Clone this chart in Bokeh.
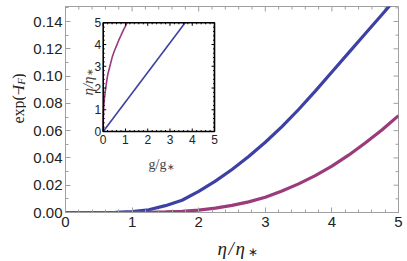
import numpy as np
from math import pi
from bokeh.plotting import figure
from bokeh.layouts import row, column
from bokeh.models import Range1d, SingleIntervalTicker, NumeralTickFormatter
from bokeh.core.properties import value
from bokeh.embed import file_html
from bokeh.resources import INLINE

# ---------------- data ----------------
eta = [0.0, 0.25, 0.5, 0.75, 1.0, 1.25, 1.5, 1.75, 2.0, 2.25, 2.5,
       2.75, 3.0, 3.25, 3.5, 3.75, 4.0, 4.25, 4.5, 4.75, 5.0]
exp_blue = [0.0, 0.0, 0.0, 0.0001, 0.0006, 0.002, 0.005, 0.009, 0.0155, 0.023, 0.0315,
            0.041, 0.0515, 0.063, 0.0755, 0.089, 0.103, 0.117, 0.131, 0.145, 0.159]
exp_magenta = [0.0, 0.0, 0.0, 0.0, 0.0, 0.0001, 0.0004, 0.0009, 0.0018, 0.0032, 0.0052,
               0.0078, 0.0112, 0.0157, 0.021, 0.027, 0.034, 0.042, 0.051, 0.0605, 0.071]

x_ticks = [0, 1, 2, 3, 4, 5]
y_ticks = [0.00, 0.02, 0.04, 0.06, 0.08, 0.10, 0.12, 0.14]

inset_g_blue = [0.0, 3.68]
inset_eta_blue = [0.0, 5.0]
inset_g_magenta = [0.0, 0.005, 0.02, 0.05, 0.1, 0.2, 0.3, 0.4, 0.5, 0.6, 0.7, 0.8, 0.9, 1.0, 1.07]
inset_eta_magenta = [0.0, 0.6, 1.05, 1.45, 1.9, 2.6, 3.0, 3.4, 3.7, 3.95, 4.2, 4.42, 4.65, 4.85, 5.0]
inset_ticks = [0, 1, 2, 3, 4, 5]
inset_tick_labels = ["0", "1", "2", "3", "4", "5"]

BLUE = "#3d41a3"
MAGENTA = "#9b3b7b"
FRAME_GRAY = "#a0a0a0"
TXT = "#222222"
GRAY_LAB = "#444444"
SANS = "Liberation Sans"
SERIF = "Liberation Serif"

# ---------------- geometry (page pixels) ----------------
TOTAL_W, TOTAL_H = 405, 260
YLAB_W = 26                  # strip left of the main plot holding the y label
MAIN_H = 234                 # height of main plot canvas
XLAB_H = TOTAL_H - MAIN_H    # strip below holding the x label
FL, FR, FT, FB = 65, 398, 6, 212          # main frame (page px)
X0, X1 = 0.0, 5.0
Y_PER_PX = 0.14 / 191.0
Y0 = 0.0
Y1 = (FB - FT) * Y_PER_PX
X_PER_PX = (X1 - X0) / (FR - FL)

IL, IR, IT, IB = 102.7, 214.0, 22.3, 131.0  # inset frame (page px)
I_LO, I_HI = 0.0, 5.0
ix_pp = (I_HI - I_LO) / (IR - IL)
iy_pp = (I_HI - I_LO) / (IB - IT)


def mx(px):
    return X0 + (px - FL) * X_PER_PX


def my(py):
    return Y0 + (FB - py) * Y_PER_PX


MAIN_W = TOTAL_W - YLAB_W
p = figure(width=MAIN_W, height=MAIN_H, x_range=Range1d(X0, X1), y_range=Range1d(Y0, Y1),
           output_backend="svg", toolbar_location=None,
           min_border_left=FL - YLAB_W, min_border_right=TOTAL_W - FR,
           min_border_top=FT, min_border_bottom=MAIN_H - FB)
p.grid.visible = False
p.outline_line_color = FRAME_GRAY
p.background_fill_color = "white"
p.border_fill_color = "white"

p.xaxis.ticker = SingleIntervalTicker(interval=1, num_minor_ticks=5)
p.yaxis.ticker = SingleIntervalTicker(interval=0.02, num_minor_ticks=2)
p.yaxis.formatter = NumeralTickFormatter(format="0.00")
for ax in (p.xaxis[0], p.yaxis[0]):
    ax.axis_line_color = FRAME_GRAY
    ax.major_tick_line_color = FRAME_GRAY
    ax.minor_tick_line_color = FRAME_GRAY
    ax.major_tick_in = 5
    ax.major_tick_out = 0
    ax.minor_tick_in = 3
    ax.minor_tick_out = 0
    ax.major_label_text_font = SANS
    ax.major_label_text_font_size = "15px"
    ax.major_label_text_color = TXT
p.xaxis.major_label_standoff = 4
p.yaxis.major_label_standoff = 3

# mirrored ticks on top and right edges
xt = np.arange(X0, X1 + 1e-9, 0.2)
xmaj = np.isclose(xt % 1.0, 0) | np.isclose(xt % 1.0, 1.0)
xlen = np.where(xmaj, 5, 3) * Y_PER_PX
p.segment(x0=xt, y0=[Y1] * len(xt), x1=xt, y1=Y1 - xlen, line_color=FRAME_GRAY, line_width=1)
yt = np.arange(0, 0.15 + 1e-9, 0.01)
ymaj = np.isclose(np.round(yt / 0.01) % 2, 0)
ylen = np.where(ymaj, 5, 3) * X_PER_PX
p.segment(x0=[X1] * len(yt), y0=yt, x1=X1 - ylen, y1=yt, line_color=FRAME_GRAY, line_width=1)

# main curves
p.line(eta, exp_blue, line_color=BLUE, line_width=3.2)
p.line(eta, exp_magenta, line_color=MAGENTA, line_width=3.2)

# ---------------- inset ----------------
p.extra_x_ranges = {"ix": Range1d(I_LO - (IL - FL) * ix_pp, I_HI + (FR - IR) * ix_pp)}
p.extra_y_ranges = {"iy": Range1d(I_LO - (FB - IB) * iy_pp, I_HI + (IT - FT) * iy_pp)}
kw = dict(x_range_name="ix", y_range_name="iy")

p.quad(left=I_LO, right=I_HI, bottom=I_LO, top=I_HI, fill_color="white", line_color=None, **kw)
p.line(inset_g_blue, inset_eta_blue, line_color=BLUE, line_width=1.6, **kw)
p.line(inset_g_magenta, inset_eta_magenta, line_color=MAGENTA, line_width=1.6, **kw)

it = np.arange(I_LO, I_HI + 1e-9, 0.2)
imaj = np.isclose(it % 1.0, 0) | np.isclose(it % 1.0, 1.0)
tl_y = np.where(imaj, 3.0, 1.5) * iy_pp
tl_x = np.where(imaj, 3.0, 1.5) * ix_pp
n = len(it)
p.segment(x0=it, y0=[I_LO] * n, x1=it, y1=I_LO + tl_y, line_color="black", line_width=1, **kw)
p.segment(x0=it, y0=[I_HI] * n, x1=it, y1=I_HI - tl_y, line_color="black", line_width=1, **kw)
p.segment(x0=[I_LO] * n, y0=it, x1=I_LO + tl_x, y1=it, line_color="black", line_width=1, **kw)
p.segment(x0=[I_HI] * n, y0=it, x1=I_HI - tl_x, y1=it, line_color="black", line_width=1, **kw)
p.quad(left=I_LO, right=I_HI, bottom=I_LO, top=I_HI, fill_color=None, line_color="black",
       line_width=1.6, **kw)

p.text(x=inset_ticks, y=[I_LO] * len(inset_ticks), text=inset_tick_labels, text_align="center",
       text_baseline="top", y_offset=3, text_font=value(SANS), text_font_size="12px",
       text_color=TXT, **kw)
p.text(x=[I_LO] * len(inset_ticks), y=inset_ticks, text=inset_tick_labels, text_align="right",
       text_baseline="middle", x_offset=-2, text_font=value(SANS), text_font_size="12px",
       text_color=TXT, **kw)


def gtext(fig, x, y, text, size, style="normal", angle=0.0, color=TXT, font=SERIF):
    """text glyph at data position (x, y) of that figure"""
    fig.text(x=[x], y=[y], text=[text], angle=angle, text_align="left",
             text_baseline="alphabetic", text_font=value(font), text_font_style=style,
             text_font_size=size, text_color=color)


# inset axis titles (page px -> main data)
gtext(p, mx(148), my(164), "g/g", "14px", color=GRAY_LAB)
gtext(p, mx(166), my(166), "∗", "9px", color=GRAY_LAB)
gtext(p, mx(87), my(95), "η/η", "15px", style="italic", angle=pi / 2, color=GRAY_LAB)
gtext(p, mx(89), my(75), "∗", "9px", angle=pi / 2, color=GRAY_LAB)


# ---------------- strips carrying the main axis titles ----------------
def strip(w, h):
    f = figure(width=w, height=h, x_range=Range1d(0, w), y_range=Range1d(0, h),
               output_backend="svg", toolbar_location=None, x_axis_type=None, y_axis_type=None,
               min_border_left=0, min_border_right=0, min_border_top=0, min_border_bottom=0)
    f.grid.visible = False
    f.outline_line_color = None
    f.background_fill_color = "white"
    f.border_fill_color = "white"
    return f


ylab = strip(YLAB_W, MAIN_H)
# y measured from top of the strip -> data y = MAIN_H - y
gtext(ylab, 18, MAIN_H - 133, "exp(−", "16px", angle=pi / 2)
gtext(ylab, 18, MAIN_H - 95, "I", "16px", style="italic", angle=pi / 2)
gtext(ylab, 20.5, MAIN_H - 89, "F", "11px", style="italic", angle=pi / 2)
gtext(ylab, 18, MAIN_H - 82, ")", "16px", angle=pi / 2)

xlab = strip(TOTAL_W, XLAB_H)
gtext(xlab, 217, TOTAL_H - 248, "η\u200a/\u200aη", "19px", style="italic")
gtext(xlab, 247, TOTAL_H - 251, "∗", "12px")

layout = column(row(ylab, p, spacing=0), xlab, spacing=0)
open("out.html", "w").write(file_html(layout, INLINE))
